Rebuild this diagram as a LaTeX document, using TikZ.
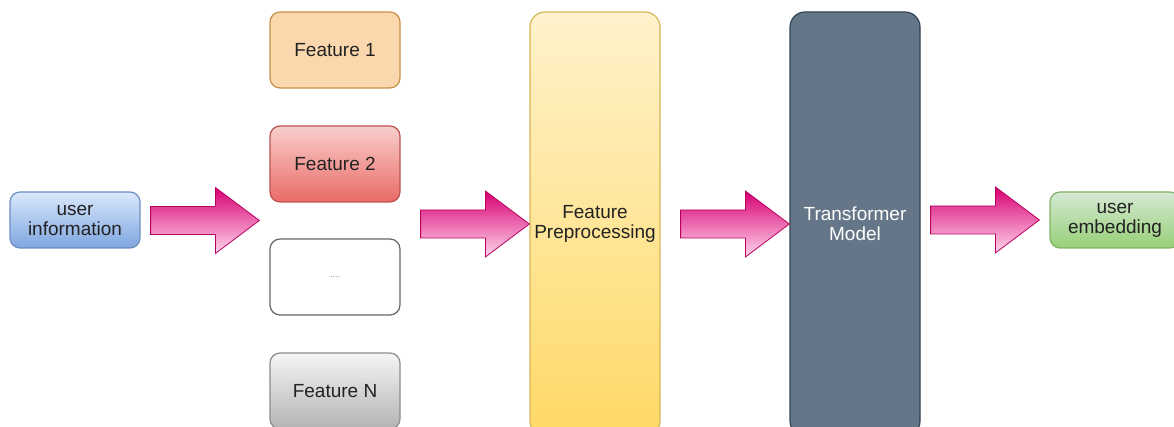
\documentclass[tikz,border=0pt]{standalone}
\usepackage{fontspec}
\setmainfont{Liberation Sans}
\usetikzlibrary{calc}
\definecolor{arrowdark}{HTML}{D80073}
\definecolor{arrowlight}{HTML}{FFD6EC}
\definecolor{arrowline}{HTML}{B8005F}
\newcommand\BlockArrow[4]{%
    \path (#1) ++(#2,0) coordinate (ArrowStart);
    \path (#3) ++(-#4,0) coordinate (ArrowTip);
    \draw[blockarrow] ($(ArrowStart |- ArrowTip)+(0,-14)$) -- ($(ArrowTip)+(-44,-14)$)
        -- ($(ArrowTip)+(-44,-33)$) -- (ArrowTip) -- ($(ArrowTip)+(-44,33)$)
        -- ($(ArrowTip)+(-44,14)$) -- ($(ArrowStart |- ArrowTip)+(0,14)$) -- cycle;
}

\begin{document}
\begin{tikzpicture}[x=1pt,y=-1pt,
    box/.style={rounded corners=10pt,minimum width=130pt,minimum height=76pt,
        inner sep=0pt,align=center,line width=1.2pt,text={rgb,255:red,34;green,34;blue,34},
        font=\fontsize{19}{20}\selectfont},
    smallbox/.style={box,minimum height=56pt},
    tallbox/.style={box,rounded corners=15pt,minimum height=424pt},
    blockarrow/.style={draw=arrowline,line width=0.8pt,top color=arrowdark,bottom color=arrowlight}]
    \useasboundingbox (0,0) rectangle (1174,427);
    % input
    \node[smallbox,draw={rgb,255:red,108;green,142;blue,191},
        top color={rgb,255:red,218;green,232;blue,252},bottom color={rgb,255:red,126;green,166;blue,224}]
        (userinfo) at (75,220) {user\\information};
    % features
    \node[box,draw={rgb,255:red,200;green,144;blue,74},fill={rgb,255:red,250;green,215;blue,172}]
        (feat1) at (335,50) {Feature 1};
    \node[box,draw={rgb,255:red,184;green,84;blue,80},
        top color={rgb,255:red,248;green,206;blue,204},bottom color={rgb,255:red,234;green,107;blue,102}]
        (feat2) at (335,164) {Feature 2};
    \node[box,draw={rgb,255:red,102;green,102;blue,102},fill=white,
        font=\fontsize{9}{9}\selectfont,text=gray]
        (featdots) at (335,277) {....};
    \node[box,draw={rgb,255:red,140;green,140;blue,140},
        top color={rgb,255:red,245;green,245;blue,245},bottom color={rgb,255:red,179;green,179;blue,179}]
        (featN) at (335,391) {Feature N};
    \coordinate (FeatIn) at ($(feat2.west)!0.5!(featdots.west)$);
    \coordinate (FeatOut) at ($(feat2.east)!0.5!(featdots.east)$);
    % model
    \node[tallbox,draw={rgb,255:red,214;green,182;blue,86},
        top color={rgb,255:red,255;green,242;blue,204},bottom color={rgb,255:red,255;green,217;blue,102}]
        (prep) at (595,224) {Feature\\Preprocessing};
    \node[tallbox,draw={rgb,255:red,49;green,67;blue,84},fill={rgb,255:red,100;green,118;blue,135},
        text=white]
        (transformer) at (855,224) {Transformer\\Model};
    % output
    \node[smallbox,draw={rgb,255:red,130;green,179;blue,102},
        top color={rgb,255:red,213;green,232;blue,212},bottom color={rgb,255:red,151;green,208;blue,119}]
        (userembed) at (1115,220) {user\\embedding};
    % arrows
    \BlockArrow{userinfo.east}{10}{FeatIn}{10}
    \BlockArrow{FeatOut}{20}{prep.west}{0}
    \BlockArrow{prep.east}{20}{transformer.west}{0}
    \BlockArrow{transformer.east}{10}{userembed.west}{10}
\end{tikzpicture}
\end{document}
